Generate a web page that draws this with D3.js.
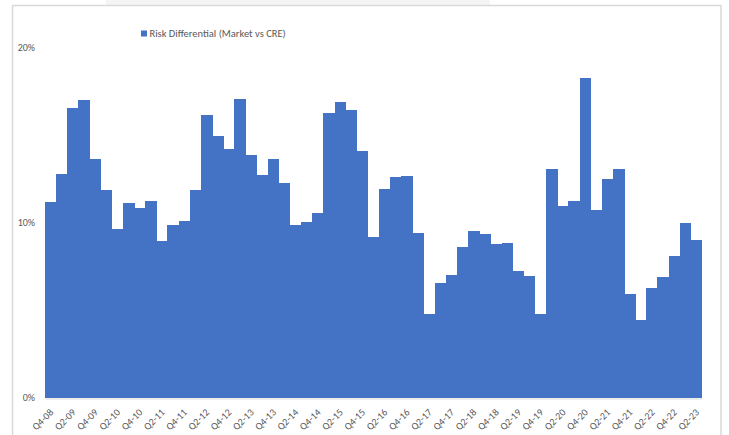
<!DOCTYPE html>
<html>
<head>
<meta charset="utf-8">
<script src="https://cdn.jsdelivr.net/npm/d3@7"></script>
<style>
  body { margin: 0; background: #fff; }
  svg { display: block; }
</style>
</head>
<body>
<div id="chart"></div>
<script>
// Quarters shown on the x axis (one bar each)
const quarters = [
  "Q4-08",
  "Q1-09", "Q2-09", "Q3-09", "Q4-09",
  "Q1-10", "Q2-10", "Q3-10", "Q4-10",
  "Q1-11", "Q2-11", "Q3-11", "Q4-11",
  "Q1-12", "Q2-12", "Q3-12", "Q4-12",
  "Q1-13", "Q2-13", "Q3-13", "Q4-13",
  "Q1-14", "Q2-14", "Q3-14", "Q4-14",
  "Q1-15", "Q2-15", "Q3-15", "Q4-15",
  "Q1-16", "Q2-16", "Q3-16", "Q4-16",
  "Q1-17", "Q2-17", "Q3-17", "Q4-17",
  "Q1-18", "Q2-18", "Q3-18", "Q4-18",
  "Q1-19", "Q2-19", "Q3-19", "Q4-19",
  "Q1-20", "Q2-20", "Q3-20", "Q4-20",
  "Q1-21", "Q2-21", "Q3-21", "Q4-21",
  "Q1-22", "Q2-22", "Q3-22", "Q4-22",
  "Q1-23", "Q2-23"
];

// Risk differential (market vs CRE)
const riskDiff = [
  0.1117,
  0.1275, 0.1656, 0.1698, 0.1365,
  0.1184, 0.0965, 0.1111, 0.1083,
  0.1121, 0.0896, 0.0986, 0.1009,
  0.1187, 0.1614, 0.1494, 0.1418,
  0.1704, 0.1384, 0.1273, 0.1365,
  0.1228, 0.0984, 0.1003, 0.1056,
  0.1624, 0.1689, 0.1645, 0.1410,
  0.0917, 0.1193, 0.1258, 0.1266,
  0.0940, 0.0479, 0.0654, 0.0698,
  0.0858, 0.0951, 0.0934, 0.0877,
  0.0883, 0.0725, 0.0694, 0.0475,
  0.1306, 0.1094, 0.1123, 0.1824,
  0.1070, 0.1249, 0.1304, 0.0591,
  0.0443, 0.0626, 0.0689, 0.0807,
  0.0995, 0.0900
];

const yTicks = [0, 0.1, 0.2];
const seriesName = "Risk Differential (Market vs CRE)";

// Dimensions
const width = 729;
const height = 435;
const marginTop = 47.5;
const marginLeft = 45;
const plotRight = 702;
const baseline = 397.5;

const font = "Carlito, 'Liberation Sans Narrow', 'Open Sans', sans-serif";
const textColor = "#595959";
const barColor = "#4472c4";

const x = d3.scaleBand()
  .domain(quarters)
  .range([marginLeft, plotRight])
  .padding(0);

const y = d3.scaleLinear()
  .domain([0, 0.2])
  .range([baseline, marginTop]);

const svg = d3.select("#chart").append("svg")
  .attr("width", width)
  .attr("height", height)
  .attr("viewBox", [0, 0, width, height]);

// faint band at the very top and the chart frame
svg.append("rect")
  .attr("x", 106).attr("y", 0)
  .attr("width", 384).attr("height", 5)
  .attr("fill", "#f4f4f4");

svg.append("rect")
  .attr("x", 12.5).attr("y", 5.5)
  .attr("width", 708.5).attr("height", 460)
  .attr("fill", "#fff")
  .attr("stroke", "#d9d9d9")
  .attr("stroke-width", 1.5);

// Bars (no gap between them)
svg.append("g")
  .attr("shape-rendering", "crispEdges")
  .selectAll("rect")
  .data(quarters)
  .join("rect")
  .attr("x", d => x(d))
  .attr("width", (d, i) => x.bandwidth() + (i < quarters.length - 1 ? 0.5 : 0))
  .attr("y", (d, i) => y(riskDiff[i]))
  .attr("height", (d, i) => y(0) - y(riskDiff[i]))
  .attr("fill", barColor);

// X axis: every other quarter labelled
svg.append("g")
  .attr("transform", `translate(0,${baseline + 1})`)
  .call(d3.axisBottom(x)
    .tickValues(quarters.filter((d, i) => i % 2 === 0))
    .tickSize(0)
    .tickSizeOuter(0))
  .call(g => g.select(".domain").attr("stroke", "#d9d9d9").attr("stroke-width", 1.2))
  .call(g => g.selectAll(".tick text")
    .attr("x", 0)
    .attr("y", 0)
    .attr("dy", "0.35em")
    .attr("transform", "translate(1,12) rotate(-45)")
    .attr("text-anchor", "end")
    .attr("fill", textColor)
    .attr("font-family", font)
    .attr("font-size", 10));

// Y axis labels only
svg.append("g")
  .attr("transform", "translate(35,0)")
  .call(d3.axisLeft(y).tickValues(yTicks).tickFormat(d3.format(".0%")).tickSize(0))
  .call(g => g.select(".domain").remove())
  .call(g => g.selectAll(".tick text")
    .attr("x", 0)
    .attr("fill", textColor)
    .attr("font-family", font)
    .attr("font-size", 10));

// Legend
const legend = svg.append("g").attr("transform", "translate(141,30.5)");
legend.append("rect")
  .attr("width", 6).attr("height", 6)
  .attr("fill", barColor);
legend.append("text")
  .attr("x", 8.5)
  .attr("y", 3)
  .attr("dy", "0.35em")
  .attr("fill", textColor)
  .attr("font-family", font)
  .attr("font-size", 10.5)
  .text(seriesName);
</script>
</body>
</html>
